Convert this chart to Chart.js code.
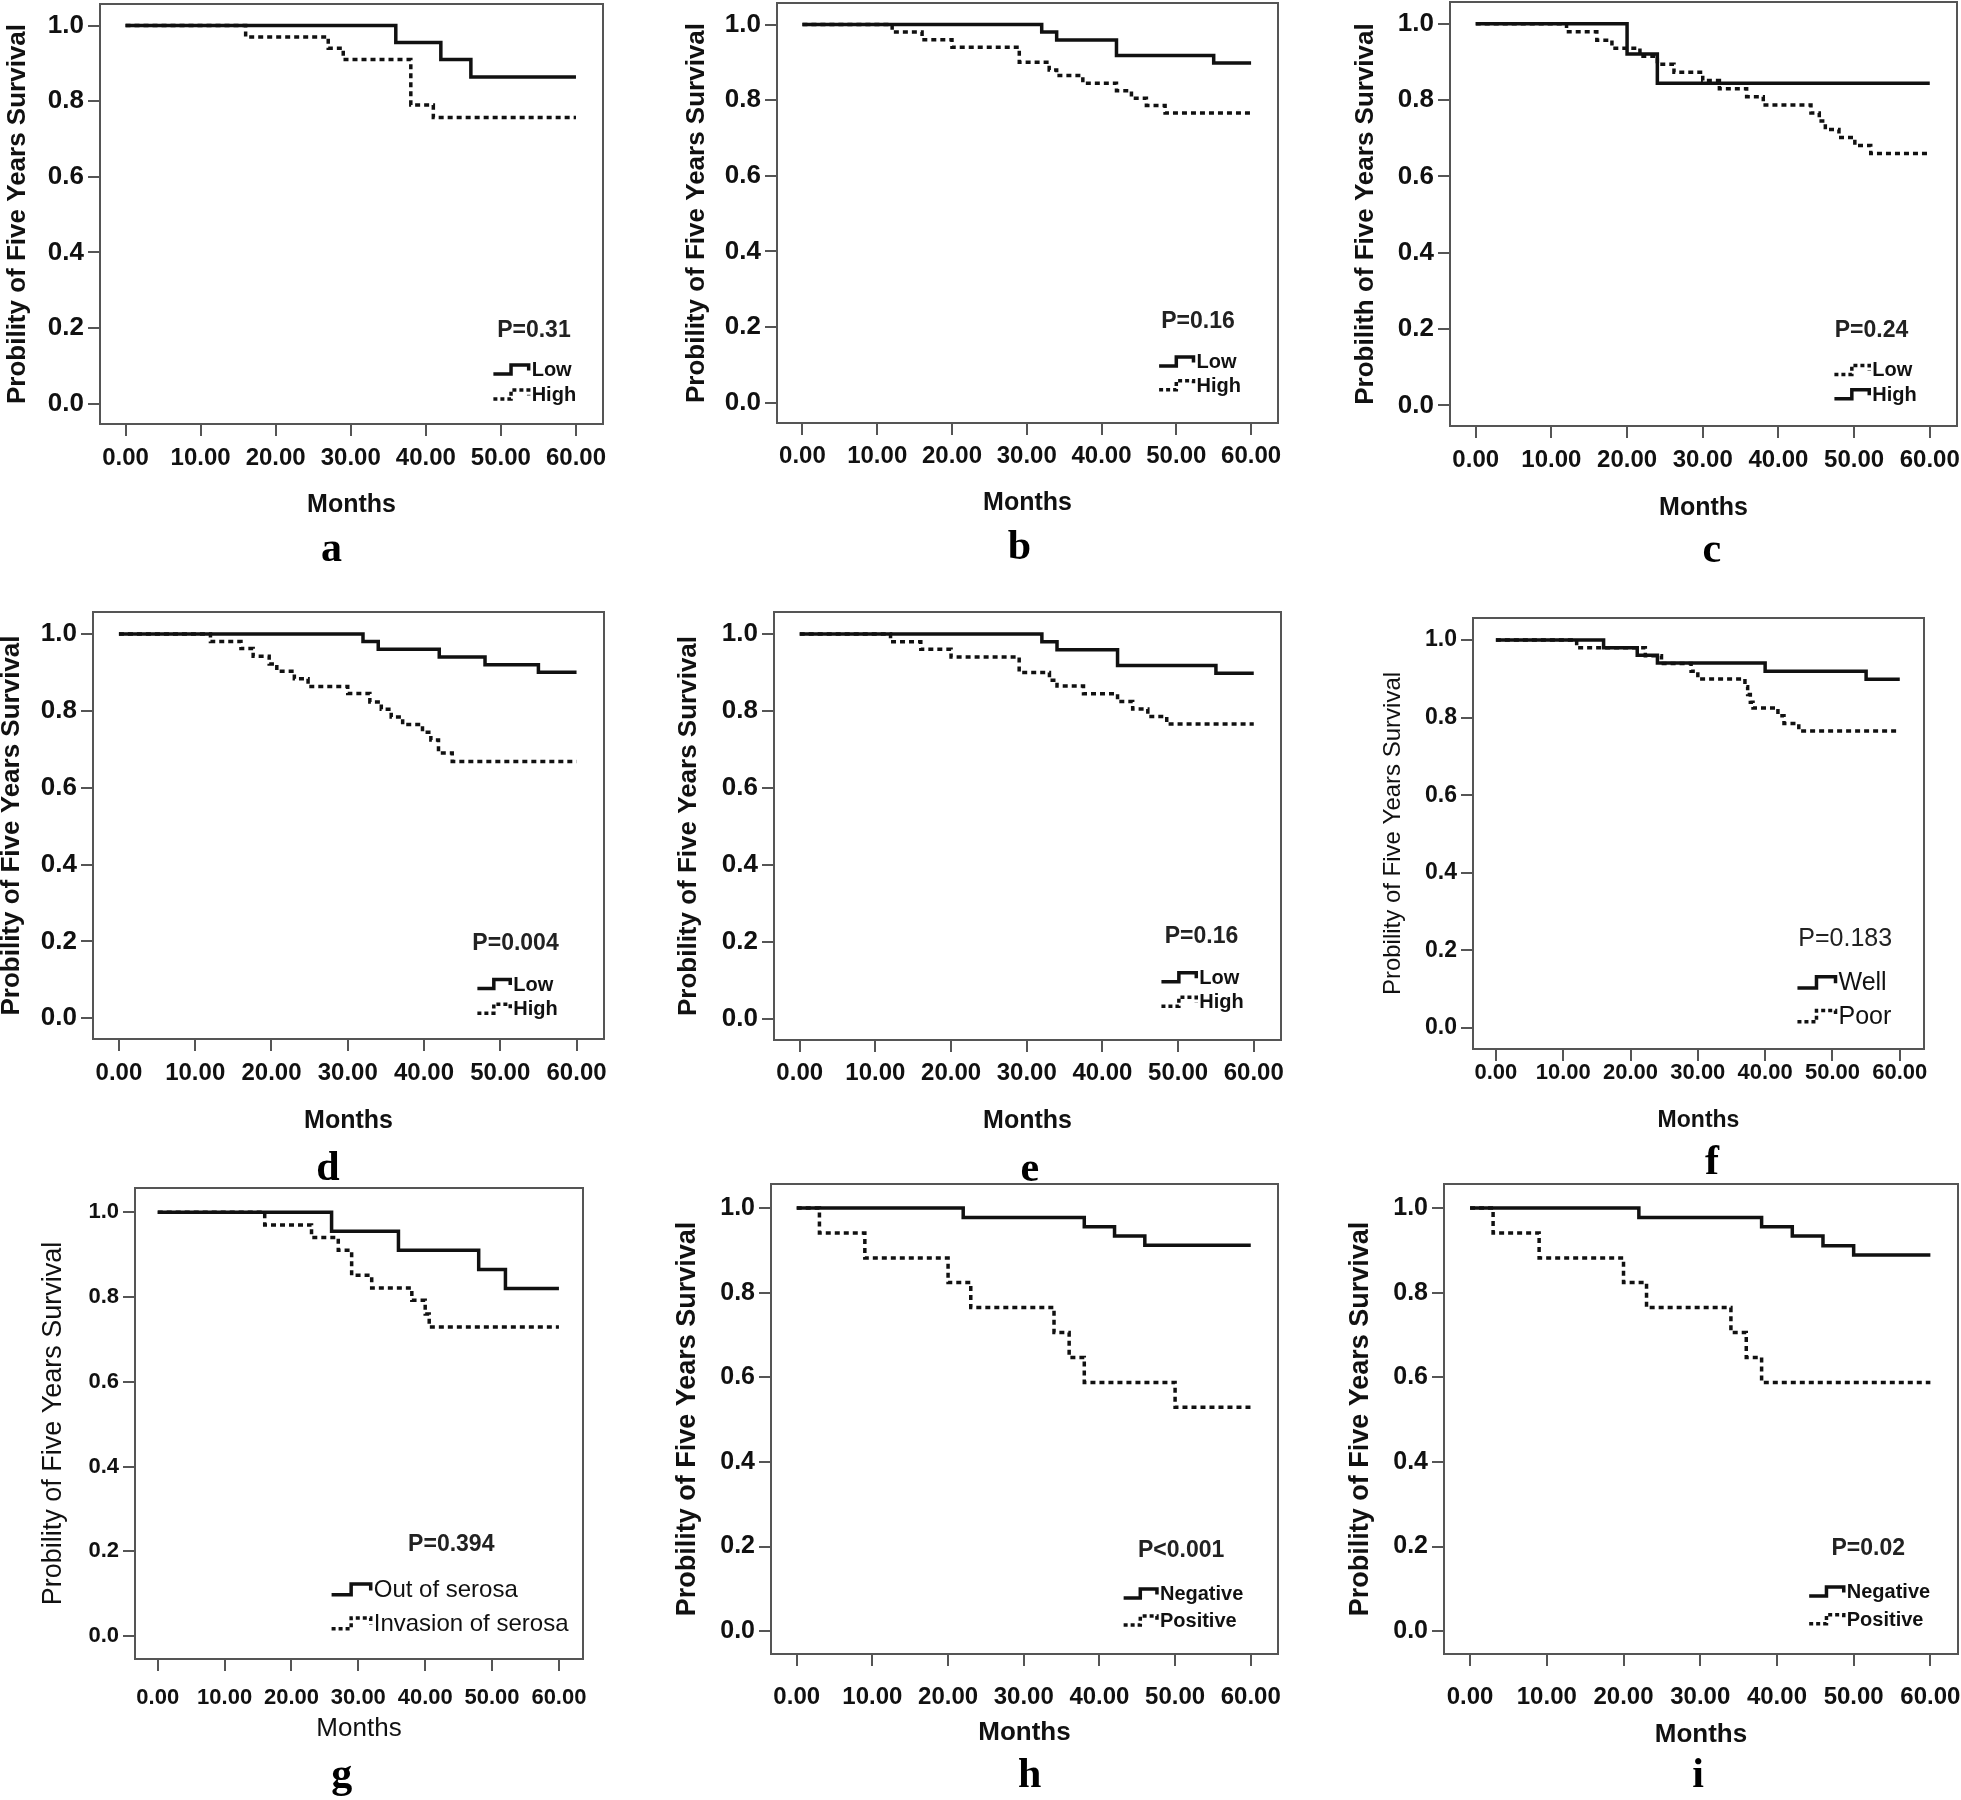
<!DOCTYPE html>
<html>
<head>
<meta charset="utf-8">
<script src="https://cdn.jsdelivr.net/npm/chart.js@4.4.1/dist/chart.umd.min.js"></script>
<style>
  html, body { margin: 0; padding: 0; background: #fff; width: 1961px; height: 1800px; overflow: hidden; position: relative; }
  canvas { position: absolute; }
</style>
</head>
<body>
<script>
// axis ticks shared by every panel
const xTicks = [0, 10, 20, 30, 40, 50, 60];
const yTicks = [0, 0.2, 0.4, 0.6, 0.8, 1.0];

// survival steps: [month, survival]
const aLow = [[0, 1], [36, 0.955], [42, 0.91], [46, 0.864], [60, 0.864]];
const aHigh = [[0, 1], [16, 0.97], [27, 0.94], [29, 0.91], [38, 0.79], [41, 0.757], [60, 0.757]];

const bLow = [[0, 1], [32, 0.98], [34, 0.959], [42, 0.918], [55, 0.898], [60, 0.898]];
const bHigh = [[0, 1], [12, 0.98], [16, 0.96], [20, 0.94], [29, 0.90], [33, 0.88], [34, 0.865], [37.5, 0.845],
  [42, 0.825], [44, 0.805], [46, 0.786], [48.5, 0.766], [60, 0.766]];

const cLow = [[0, 1], [12, 0.979], [16, 0.957], [18, 0.936], [21.7, 0.915], [24, 0.894], [26.2, 0.873], [30, 0.851],
  [32.2, 0.83], [35.8, 0.809], [38, 0.787], [44.3, 0.766], [45.4, 0.745], [46.2, 0.723], [48, 0.702],
  [50.1, 0.681], [52.2, 0.66], [60, 0.66]];
const cHigh = [[0, 1], [20, 0.921], [24, 0.844], [60, 0.844]];

const dLow = [[0, 1], [32, 0.98], [34, 0.96], [42, 0.94], [48, 0.92], [55, 0.90], [60, 0.90]];
const dHigh = [[0, 1], [12, 0.98], [16, 0.962], [17.6, 0.942], [19.7, 0.922], [20.7, 0.903], [23, 0.883],
  [24.8, 0.863], [30, 0.845], [32.9, 0.823], [34.4, 0.804], [35.7, 0.784], [37.2, 0.764], [39.8, 0.744],
  [40.9, 0.724], [41.9, 0.69], [43.7, 0.668], [60, 0.668]];

const eLow = [[0, 1], [32, 0.98], [34, 0.959], [42, 0.918], [55, 0.898], [60, 0.898]];
const eHigh = [[0, 1], [12, 0.98], [16, 0.96], [20, 0.94], [29, 0.90], [33, 0.88], [34, 0.865], [37.5, 0.845],
  [42, 0.825], [44, 0.805], [46, 0.786], [48.5, 0.766], [60, 0.766]];

const fWell = [[0, 1], [16, 0.98], [21, 0.961], [24, 0.941], [40, 0.92], [55, 0.899], [60, 0.899]];
const fPoor = [[0, 1], [12, 0.98], [22.2, 0.96], [24.6, 0.94], [29, 0.92], [30, 0.90], [37, 0.88], [37.4, 0.86],
  [37.8, 0.84], [38.2, 0.825], [41.9, 0.805], [42.8, 0.785], [45, 0.766], [60, 0.766]];

const gOut = [[0, 1], [26, 0.955], [36, 0.91], [48, 0.865], [52, 0.82], [60, 0.82]];
const gInv = [[0, 1], [16, 0.97], [23, 0.94], [27, 0.91], [29, 0.851], [32, 0.821], [38, 0.792], [40, 0.76],
  [40.6, 0.729], [60, 0.729]];

const hNeg = [[0, 1], [22, 0.978], [38, 0.956], [42, 0.934], [46, 0.912], [60, 0.912]];
const hPos = [[0, 1], [3, 0.941], [9, 0.882], [20, 0.824], [23, 0.765], [34, 0.706], [36, 0.647], [38, 0.588],
  [50, 0.529], [60, 0.529]];

const iNeg = [[0, 1], [22, 0.978], [38, 0.956], [42, 0.934], [46, 0.911], [50, 0.889], [60, 0.889]];
const iPos = [[0, 1], [3, 0.941], [9, 0.882], [20, 0.824], [23, 0.765], [34, 0.706], [36, 0.647], [38, 0.588],
  [60, 0.588]];

const yTitle = 'Probility of Five Years Survival';

// text styles (SPSS export looks differ a bit between panels)
const boldStyle = { yTick: 26, xTick: 24, months: [25, 'bold'], yTitle: [26, 'bold'], p: [23, 'bold'], leg: [20, 'bold'] };
const fStyle = { yTick: 23, xTick: 22, months: [23, 'bold'], yTitle: [24, 'normal'], p: [25, 'normal'], leg: [25, 'normal'] };
const gStyle = { yTick: 22, xTick: 22, months: [26, 'normal'], yTitle: [27, 'normal'], p: [23, 'bold'], leg: [24, 'normal'] };
const hiStyle = { yTick: 25, xTick: 24, months: [26, 'bold'], yTitle: [27, 'bold'], p: [23, 'bold'], leg: [20, 'bold'] };

// page layout: where 0 and 60 months, 1.0 and 0.0 land, plus text spots
const panels = [
  { letter: 'a', series: [['Low', aLow, false], ['High', aHigh, true]], p: 'P=0.31', st: boldStyle, title: yTitle,
    x0: 125, x60: 575, y1: 26, y0: 404, tickY: 459, monthsY: 506, titleX: 17, letterX: 331, letterY: 551,
    pAt: [54.4, 0.193], legX: 49.0, legTextX: 54.1, legY: [0.09, 0.024] },
  { letter: 'b', series: [['Low', bLow, false], ['High', bHigh, true]], p: 'P=0.16', st: boldStyle, title: yTitle,
    x0: 802, x60: 1251, y1: 25, y0: 403, tickY: 457, monthsY: 504, titleX: 696, letterX: 1019, letterY: 549,
    pAt: [52.9, 0.215], legX: 47.7, legTextX: 52.7, legY: [0.109, 0.046] },
  { letter: 'c', series: [['Low', cLow, true], ['High', cHigh, false]], p: 'P=0.24', st: boldStyle,
    title: 'Probilith of Five Years Survival',
    x0: 1476, x60: 1930, y1: 24, y0: 406, tickY: 461, monthsY: 508, titleX: 1366, letterX: 1712, letterY: 551,
    pAt: [52.3, 0.197], legX: 47.4, legTextX: 52.4, legY: [0.093, 0.029] },
  { letter: 'd', series: [['Low', dLow, false], ['High', dHigh, true]], p: 'P=0.004', st: boldStyle, title: yTitle,
    x0: 119, x60: 577, y1: 634, y0: 1018, tickY: 1073, monthsY: 1121, titleX: 12, letterX: 328, letterY: 1169,
    pAt: [52.0, 0.193], legX: 47.0, legTextX: 51.7, legY: [0.089, 0.025] },
  { letter: 'e', series: [['Low', eLow, false], ['High', eHigh, true]], p: 'P=0.16', st: boldStyle, title: yTitle,
    x0: 800, x60: 1254, y1: 634, y0: 1019, tickY: 1073, monthsY: 1121, titleX: 689, letterX: 1030, letterY: 1170,
    pAt: [53.1, 0.213], legX: 47.8, legTextX: 52.8, legY: [0.109, 0.045] },
  { letter: 'f', series: [['Well', fWell, false], ['Poor', fPoor, true]], p: 'P=0.183', st: fStyle, title: yTitle,
    x0: 1496, x60: 1900, y1: 640, y0: 1028, tickY: 1073, monthsY: 1121, titleX: 1393, letterX: 1712, letterY: 1163,
    pAt: [51.9, 0.23], legX: 44.8, legTextX: 50.9, legY: [0.118, 0.031] },
  { letter: 'g', series: [['Out of serosa', gOut, false], ['Invasion of serosa', gInv, true]], p: 'P=0.394', st: gStyle,
    title: yTitle,
    x0: 158, x60: 559, y1: 1212, y0: 1636, tickY: 1698, monthsY: 1729, titleX: 54, letterX: 342, letterY: 1776,
    pAt: [43.9, 0.215], legX: 26.0, legTextX: 32.3, legY: [0.11, 0.03] },
  { letter: 'h', series: [['Negative', hNeg, false], ['Positive', hPos, true]], p: 'P<0.001', st: hiStyle, title: yTitle,
    x0: 797, x60: 1251, y1: 1208, y0: 1631, tickY: 1697, monthsY: 1733, titleX: 688, letterX: 1030, letterY: 1776,
    pAt: [50.8, 0.19], legX: 43.2, legTextX: 48.0, legY: [0.089, 0.025] },
  { letter: 'i', series: [['Negative', iNeg, false], ['Positive', iPos, true]], p: 'P=0.02', st: hiStyle, title: yTitle,
    x0: 1470, x60: 1930, y1: 1208, y0: 1631, tickY: 1697, monthsY: 1735, titleX: 1360, letterX: 1698, letterY: 1776,
    pAt: [51.9, 0.196], legX: 44.2, legTextX: 49.1, legY: [0.094, 0.028] },
];

const X_MIN = -3.4, X_MAX = 63.6, Y_MIN = -0.054, Y_MAX = 1.057;
const PAD_L = 140, PAD_R = 60, PAD_T = 30, PAD_B = 165, TICK = 12;
const INK = '#111';
const FAMILY = '"Liberation Sans", Arial, sans-serif';

const kmDecor = {
  id: 'kmDecor',
  afterDraw(chart, args, opts) {
    const { ctx, chartArea: ca, scales: { x, y } } = chart;
    const cfg = opts.cfg;
    ctx.save();
    // plot frame
    ctx.strokeStyle = '#555';
    ctx.lineWidth = 2;
    ctx.strokeRect(ca.left, ca.top, ca.right - ca.left, ca.bottom - ca.top);

    // p value
    ctx.fillStyle = '#222';
    ctx.font = `${cfg.st.p[1]} ${cfg.st.p[0]}px ${FAMILY}`;
    ctx.textAlign = 'center';
    ctx.textBaseline = 'middle';
    ctx.fillText(cfg.p, x.getPixelForValue(cfg.pAt[0]), y.getPixelForValue(cfg.pAt[1]));

    // legend with little step glyphs
    const fs = cfg.st.leg[0];
    ctx.font = `${cfg.st.leg[1]} ${fs}px ${FAMILY}`;
    ctx.textAlign = 'left';
    cfg.series.forEach(([name, , dotted], i) => {
      const ly = y.getPixelForValue(cfg.legY[i]);
      const sx = x.getPixelForValue(cfg.legX);
      const ex = x.getPixelForValue(cfg.legTextX) - 3;
      const mid = (sx + ex) / 2;
      const h = fs * 0.45;
      ctx.beginPath();
      ctx.setLineDash(dotted ? [4, 3] : []);
      ctx.lineWidth = 3.5;
      ctx.strokeStyle = INK;
      ctx.moveTo(sx, ly + h / 2);
      ctx.lineTo(mid, ly + h / 2);
      ctx.lineTo(mid, ly - h / 2);
      ctx.lineTo(ex, ly - h / 2);
      ctx.lineTo(ex, ly + 1);
      ctx.stroke();
      ctx.setLineDash([]);
      ctx.fillStyle = INK;
      ctx.fillText(name, ex + 3, ly + 1);
    });

    // panel letter
    ctx.font = 'bold 42px "Liberation Serif", "Times New Roman", serif';
    ctx.textAlign = 'center';
    ctx.fillStyle = '#000';
    ctx.fillText(cfg.letter, cfg.letterX - cfg.canvasLeft, cfg.letterY - cfg.canvasTop);
    ctx.restore();
  }
};

panels.forEach((cfg) => {
  const u = (cfg.x60 - cfg.x0) / 60;
  const v = cfg.y0 - cfg.y1;
  const left = cfg.x0 + X_MIN * u;
  const right = cfg.x0 + X_MAX * u;
  const top = cfg.y1 - (Y_MAX - 1) * v;
  const bottom = cfg.y0 - Y_MIN * v;

  cfg.canvasLeft = left - PAD_L;
  cfg.canvasTop = top - PAD_T;
  const width = Math.round(right - left + PAD_L + PAD_R);
  const height = Math.round(bottom - top + PAD_T + PAD_B);
  const canvasBottom = cfg.canvasTop + height;

  const canvas = document.createElement('canvas');
  canvas.width = width;
  canvas.height = height;
  canvas.style.left = cfg.canvasLeft + 'px';
  canvas.style.top = cfg.canvasTop + 'px';
  canvas.style.width = width + 'px';
  canvas.style.height = height + 'px';
  document.body.appendChild(canvas);

  const st = cfg.st;
  const datasets = cfg.series.map(([name, pts, dotted]) => ({
    label: name,
    data: pts.map(([mx, sv]) => ({ x: mx, y: sv })),
    borderColor: INK,
    borderWidth: 3.5,
    borderDash: dotted ? [5, 4] : [],
    pointRadius: 0,
    stepped: true,
    fill: false,
    order: dotted ? 0 : 1,
  }));

  new Chart(canvas, {
    type: 'line',
    data: { datasets },
    plugins: [kmDecor],
    options: {
      responsive: false,
      animation: false,
      devicePixelRatio: 1,
      layout: { padding: { left: 0, right: PAD_R, top: PAD_T, bottom: 0 } },
      plugins: {
        legend: { display: false },
        tooltip: { enabled: false },
        kmDecor: { cfg },
      },
      scales: {
        x: {
          type: 'linear',
          min: X_MIN,
          max: X_MAX,
          afterBuildTicks: (s) => { s.ticks = xTicks.map((t) => ({ value: t })); },
          afterFit: (s) => { s.height = PAD_B; },
          ticks: {
            callback: (val) => Number(val).toFixed(2),
            font: { family: FAMILY, size: st.xTick, weight: 'bold' },
            color: INK,
            maxRotation: 0,
            autoSkip: false,
            padding: cfg.tickY - bottom - TICK - 0.6 * st.xTick,
          },
          grid: { drawOnChartArea: false, drawTicks: true, tickLength: TICK, color: '#555', lineWidth: 2 },
          border: { display: false },
          title: {
            display: true,
            text: 'Months',
            color: INK,
            font: { family: FAMILY, size: st.months[0], weight: st.months[1] },
            padding: { top: 0, bottom: canvasBottom - cfg.monthsY - 0.6 * st.months[0] },
          },
        },
        y: {
          type: 'linear',
          min: Y_MIN,
          max: Y_MAX,
          afterBuildTicks: (s) => { s.ticks = yTicks.map((t) => ({ value: t })); },
          afterFit: (s) => { s.width = PAD_L; },
          ticks: {
            callback: (val) => Number(val).toFixed(1),
            font: { family: FAMILY, size: st.yTick, weight: 'bold' },
            color: INK,
            padding: 4,
          },
          grid: { drawOnChartArea: false, drawTicks: true, tickLength: TICK, color: '#555', lineWidth: 2 },
          border: { display: false },
          title: {
            display: true,
            text: cfg.title,
            color: INK,
            font: { family: FAMILY, size: st.yTitle[0], weight: st.yTitle[1] },
            padding: { top: cfg.titleX - cfg.canvasLeft - 0.6 * st.yTitle[0], bottom: 0 },
          },
        },
      },
    },
  });
});
</script>
</body>
</html>
